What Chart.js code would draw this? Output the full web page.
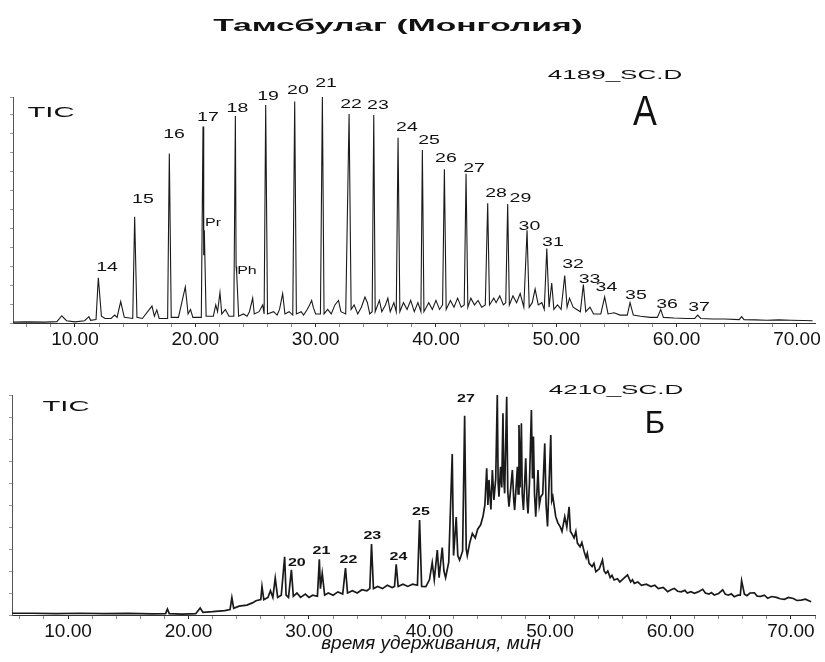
<!DOCTYPE html>
<html>
<head>
<meta charset="utf-8">
<script src="https://cdn.jsdelivr.net/npm/chart.js@4.4.1/dist/chart.umd.min.js"></script>
<style>
  body { margin: 0; background: #fff; }
  canvas { display: block; }
</style>
</head>
<body>
<canvas id="chart-a" width="825" height="362"></canvas>
<canvas id="chart-b" width="825" height="300"></canvas>
<script>
"use strict";

// retention time (min), relative TIC intensity (0..100)
const traceA = [
  [4.85, 0.4], [6.0, 0.5], [7.5, 0.4], [8.5, 0.6], [8.9, 3.2], [9.3, 1.0], [10.0, 0.5], [10.8, 1.0],
  [11.16, 2.8], [11.3, 1.2], [11.75, 1.5], [11.94, 20], [12.2, 3], [12.5, 2], [13.0, 2], [13.3, 3.5],
  [13.5, 2.5], [13.8, 9.5], [14.1, 2.5], [14.8, 2], [14.96, 47], [15.15, 2.5], [15.6, 2], [16.4, 7.5],
  [16.6, 3], [16.8, 5.8], [17.0, 2], [17.7, 2], [17.84, 75], [18.0, 2.5], [18.6, 2.5], [19.17, 16],
  [19.4, 4], [19.6, 6], [19.8, 2.5], [20.5, 2.5], [20.64, 87], [20.7, 30], [20.75, 41], [20.9, 3],
  [21.5, 3], [21.7, 8], [21.85, 5], [22.05, 13.5], [22.2, 4], [22.5, 6], [22.8, 3], [23.2, 3],
  [23.33, 91.6], [23.39, 25], [23.44, 22], [23.6, 3], [24.0, 4], [24.3, 3], [24.5, 5], [24.77, 11],
  [24.9, 4], [25.3, 5], [25.6, 8], [25.72, 4], [25.85, 96.5], [26.0, 4], [26.5, 5], [26.8, 3.5],
  [27.0, 6], [27.26, 13], [27.45, 4], [27.8, 5], [28.1, 3.5], [28.26, 98], [28.4, 4], [28.8, 5],
  [29.0, 3.5], [29.3, 6], [29.5, 8], [29.67, 10], [29.8, 7], [30.0, 4], [30.4, 4], [30.56, 100],
  [30.7, 4], [31.0, 6], [31.3, 4], [31.6, 8], [31.9, 10], [32.1, 5], [32.5, 4], [32.78, 92.5],
  [32.95, 6], [33.2, 8], [33.5, 4], [33.8, 7], [34.1, 11.5], [34.3, 9], [34.5, 4], [34.7, 5],
  [34.83, 92], [34.95, 5], [35.3, 10], [35.5, 5], [35.8, 8], [36.0, 11], [36.2, 5], [36.5, 9],
  [36.7, 5], [36.85, 82], [37.0, 5], [37.3, 9], [37.6, 6], [37.9, 10], [38.2, 5], [38.5, 9],
  [38.75, 5], [38.87, 76.5], [39.0, 5], [39.4, 9], [39.7, 6], [40.0, 10], [40.3, 6], [40.55, 8],
  [40.7, 68], [40.85, 6], [41.2, 10], [41.5, 7], [41.8, 11], [42.1, 7], [42.35, 8], [42.5, 66],
  [42.65, 7], [42.9, 11], [43.2, 8], [43.5, 10], [43.8, 7], [44.1, 8], [44.3, 53], [44.45, 8],
  [44.8, 11], [45.0, 9], [45.3, 12], [45.6, 8], [45.8, 9], [45.96, 52.6], [46.1, 8], [46.4, 12],
  [46.7, 9], [47.0, 13], [47.3, 7], [47.57, 41], [47.75, 7], [48.0, 9], [48.24, 15], [48.5, 8],
  [48.8, 9], [49.0, 6], [49.21, 33], [49.4, 7], [49.62, 17.7], [49.8, 6], [50.1, 8], [50.4, 6],
  [50.7, 21], [50.9, 7], [51.1, 11], [51.4, 7], [51.7, 6], [52.0, 5], [52.25, 17], [52.45, 5],
  [52.8, 7], [53.1, 4], [53.5, 4], [53.7, 4], [54.02, 11.5], [54.3, 4], [54.8, 4.5], [55.3, 3.5],
  [55.9, 3.5], [56.13, 9], [56.4, 3.5], [57.0, 3], [57.8, 2.5], [58.4, 2.5], [58.68, 6], [58.9, 2.5],
  [59.8, 2.2], [60.8, 2], [61.5, 2], [61.76, 3.5], [62.0, 2], [63.0, 1.8], [64.0, 1.8], [65.2, 1.5],
  [65.4, 2.8], [65.6, 1.5], [66.5, 1.4], [67.5, 1.2], [68.5, 1.4], [69.5, 1.2], [70.5, 1.1], [71.3, 1.0]
];

const traceB = [
  [5.35, 0.8], [7, 0.8], [9, 0.6], [11, 0.8], [13, 0.6], [15, 0.7], [17, 0.5], [18.1, 0.6],
  [18.25, 2.7], [18.4, 0.6], [19.5, 0.4], [20.6, 0.6], [20.97, 3.2], [21.2, 1.2], [22.0, 1.5], [23.0, 2.0],
  [23.45, 2.5], [23.6, 7.9], [23.75, 3], [24.2, 4], [24.85, 4.5], [25.3, 5.5], [25.6, 6.5], [26.0, 7],
  [26.1, 13], [26.25, 7], [26.6, 8], [26.8, 11], [27.0, 8], [27.2, 16.8], [27.4, 8], [27.7, 9],
  [27.98, 26.5], [28.1, 9], [28.3, 8], [28.54, 20.5], [28.7, 8.5], [29.0, 10], [29.3, 8], [29.7, 9.5],
  [30.0, 8], [30.3, 9], [30.7, 8.5], [30.86, 25.3], [30.95, 12], [31.1, 19], [31.3, 9], [31.6, 10],
  [32.0, 9], [32.4, 10.5], [32.8, 9.5], [33.03, 21.3], [33.2, 10], [33.6, 11], [34.0, 10], [34.4, 11.5],
  [34.8, 11], [35.05, 12], [35.19, 32.3], [35.35, 12], [35.7, 13], [36.1, 12], [36.5, 13.5], [36.9, 12.5],
  [37.1, 13], [37.24, 23], [37.4, 13], [37.8, 14], [38.2, 13], [38.6, 14], [39.0, 13.5], [39.18, 43.2],
  [39.35, 13], [39.7, 12.9], [40.0, 16], [40.23, 23.8], [40.4, 16], [40.65, 29.5], [40.8, 17], [41.06, 30.6],
  [41.2, 20], [41.34, 17], [41.6, 24], [41.89, 73.2], [42.0, 27], [42.22, 44.5], [42.35, 27], [42.5, 25],
  [42.75, 29], [42.92, 90.6], [43.05, 30], [43.14, 27], [43.35, 33], [43.56, 37], [43.8, 35], [44.0, 39],
  [44.25, 41], [44.45, 45], [44.6, 50], [44.75, 66.7], [44.85, 50], [44.94, 61.4], [45.1, 48], [45.22, 65.9],
  [45.35, 52.3], [45.5, 62], [45.63, 100], [45.7, 60], [45.77, 53.8], [45.9, 67.4], [46.0, 58], [46.1, 91.7],
  [46.17, 62], [46.24, 55.3], [46.41, 99.2], [46.5, 56], [46.6, 49.2], [46.75, 58], [46.88, 65.9], [47.0, 52],
  [47.07, 47.7], [47.3, 67.4], [47.36, 55], [47.43, 86.4], [47.52, 58], [47.63, 87.1], [47.7, 55], [47.8, 47.7],
  [47.99, 71.2], [48.1, 52], [48.18, 46.2], [48.3, 60], [48.46, 93.2], [48.55, 62], [48.63, 81.1], [48.72, 55],
  [48.82, 44.7], [49.01, 65.9], [49.12, 50], [49.24, 53.8], [49.4, 55], [49.57, 78], [49.68, 50], [49.8, 40.2],
  [50.07, 81.8], [50.15, 52], [50.24, 53.8], [50.48, 44.7], [50.65, 42], [50.84, 40.2], [51.0, 38], [51.23, 44.7],
  [51.4, 40], [51.59, 49.2], [51.7, 38], [51.78, 37.3], [52.0, 35], [52.15, 38], [52.28, 32.7], [52.5, 31],
  [52.65, 33], [52.84, 28.8], [53.0, 26], [53.1, 28], [53.25, 23.5], [53.5, 22], [53.65, 23.5], [53.81, 19.7],
  [54.1, 21], [54.36, 25], [54.5, 20], [54.64, 18.9], [54.8, 20], [55.0, 17], [55.15, 18], [55.33, 15.9],
  [55.6, 16.5], [55.8, 15], [56.1, 16.5], [56.44, 18.2], [56.7, 15], [56.85, 16], [57.0, 14.4], [57.3, 15],
  [57.6, 13.5], [58.0, 14], [58.38, 12.9], [58.7, 13.5], [59.0, 12], [59.4, 12.5], [59.77, 10.6], [60.05, 11.5],
  [60.32, 12.1], [60.6, 10.8], [60.9, 10.5], [61.2, 11.2], [61.4, 10], [61.7, 10.6], [61.98, 9.9], [62.3, 10.5],
  [62.68, 11.7], [62.9, 10], [63.2, 9.5], [63.4, 10.2], [63.64, 9.1], [64.0, 9.8], [64.34, 11.4], [64.55, 9.5],
  [64.8, 9], [65.05, 9.6], [65.3, 8.3], [65.6, 9], [65.8, 9], [65.91, 15.6], [66.14, 9.5], [66.35, 8.8],
  [66.6, 10], [66.97, 10.1], [67.2, 8.6], [67.5, 8.5], [67.8, 9], [68.08, 7.6], [68.4, 8.4], [68.8, 8],
  [69.1, 7.4], [69.46, 7.1], [69.8, 8], [70.2, 7.5], [70.5, 6.6], [70.85, 6.8], [71.2, 7.2], [71.68, 6]
];

// peak labels: text, retention time, level where the label sits
const peakLabelsA = [
  ['14', 12.66, 24.6], ['15', 15.65, 54.6], ['16', 18.23, 83.4], ['17', 21.05, 90.9], ['18', 23.5, 95.1],
  ['19', 26.04, 100.2], ['20', 28.53, 103.1], ['21', 30.86, 105.8], ['22', 32.94, 96.5], ['23', 35.18, 96.2],
  ['24', 37.59, 86.5], ['25', 39.42, 81], ['26', 40.83, 72.8], ['27', 43.16, 68.4], ['28', 44.99, 57.5],
  ['29', 47.02, 55.3], ['30', 47.77, 42.7], ['31', 49.72, 35.8], ['32', 51.39, 25.9], ['33', 52.76, 19.5],
  ['34', 54.17, 15.9], ['35', 56.62, 12.4], ['36', 59.2, 8.2], ['37', 61.86, 7.1]
];
const isoprenoidLabelsA = [['Pr', 21.47, 44], ['Ph', 24.29, 23]];
const peakLabelsB = [
  ['20', 28.99, 23.4], ['21', 31.03, 29.1], ['22', 33.27, 25], ['23', 35.26, 35.7], ['24', 37.42, 26.4],
  ['25', 39.29, 46.8], ['27', 43.03, 98.2]
];

const FONT = '"Liberation Sans", Arial, sans-serif';

function drawText(ctx, text, x, y, font, sx) {
  ctx.save();
  ctx.font = font;
  ctx.textAlign = 'center';
  ctx.textBaseline = 'middle';
  ctx.translate(x, y);
  ctx.scale(sx, 1);
  ctx.fillText(text, 0, 0);
  ctx.restore();
}

const annotate = {
  id: 'annotate',
  afterDraw(chart, args, opts) {
    const ctx = chart.ctx;
    const xs = chart.scales.x;
    const ys = chart.scales.y;
    ctx.save();
    ctx.fillStyle = '#111';
    for (const t of opts.fixed) {
      drawText(ctx, t.text, t.x, t.y, t.font, t.sx);
    }
    for (const group of opts.groups) {
      for (const [text, time, level] of group.items) {
        drawText(ctx, text, xs.getPixelForValue(time), ys.getPixelForValue(level), group.font, group.sx);
      }
    }
    ctx.restore();
  }
};

function makeChart(id, trace, s) {
  return new Chart(document.getElementById(id), {
    type: 'line',
    data: {
      datasets: [{
        data: trace.map(p => ({x: p[0], y: p[1]})),
        borderColor: '#1a1a1a',
        borderWidth: s.lineWidth,
        pointRadius: 0,
        tension: 0,
        clip: false
      }]
    },
    options: {
      responsive: false,
      animation: false,
      devicePixelRatio: 1,
      layout: {padding: {top: s.top, right: 10, bottom: 0, left: 0}},
      plugins: {
        legend: {display: false},
        tooltip: {enabled: false},
        annotate: {fixed: s.fixed, groups: s.groups}
      },
      scales: {
        x: {
          type: 'linear',
          min: s.xMin,
          max: s.xMax,
          afterFit: sc => { sc.height = s.xHeight; },
          border: {color: '#333', width: 1},
          grid: {
            drawOnChartArea: false,
            tickLength: 4,
            tickColor: c => (c.tick && c.tick.value % 10 === 0) ? '#222' : '#888'
          },
          ticks: {
            stepSize: 2,
            autoSkip: false,
            maxRotation: 0,
            includeBounds: false,
            padding: 1,
            color: '#111',
            font: {family: FONT, size: 19},
            callback: v => (v % 10 === 0 ? v.toFixed(2) : '')
          }
        },
        y: {
          min: 0,
          max: 100,
          afterFit: sc => { sc.width = s.yWidth; },
          border: {color: '#555', width: 1},
          grid: {drawOnChartArea: false, tickLength: 3, color: '#999'},
          ticks: {display: false, stepSize: s.yStep}
        }
      }
    },
    plugins: [annotate]
  });
}

makeChart('chart-a', traceA, {
  top: 97, xMin: 4.85, xMax: 71.5, xHeight: 39, yWidth: 13, yStep: 8.4, lineWidth: 1.1,
  fixed: [
    {text: 'Тамсбулаг (Монголия)', x: 398, y: 26, font: 'bold 17px ' + FONT, sx: 1.98},
    {text: '4189_SC.D', x: 615, y: 75, font: '13px ' + FONT, sx: 2.0},
    {text: 'A', x: 645, y: 113, font: '42px ' + FONT, sx: 0.85},
    {text: 'TIC', x: 51, y: 113, font: '15px ' + FONT, sx: 1.95}
  ],
  groups: [
    {items: peakLabelsA, font: '13px ' + FONT, sx: 1.5},
    {items: isoprenoidLabelsA, font: '10px ' + FONT, sx: 1.6}
  ]
});

makeChart('chart-b', traceB, {
  top: 33, xMin: 5.35, xMax: 72, xHeight: 47, yWidth: 12, yStep: 10, lineWidth: 1.7,
  fixed: [
    {text: '4210_SC.D', x: 616, y: 28, font: '13px ' + FONT, sx: 2.0},
    {text: 'Б', x: 655, y: 62, font: '31px ' + FONT, sx: 1.0},
    {text: 'TIC', x: 66, y: 45, font: '15px ' + FONT, sx: 1.95},
    {text: 'время удерживания, мин', x: 431, y: 282, font: 'italic 19px ' + FONT, sx: 1.0}
  ],
  groups: [
    {items: peakLabelsB, font: 'bold 10px ' + FONT, sx: 1.6}
  ]
});
</script>
</body>
</html>
